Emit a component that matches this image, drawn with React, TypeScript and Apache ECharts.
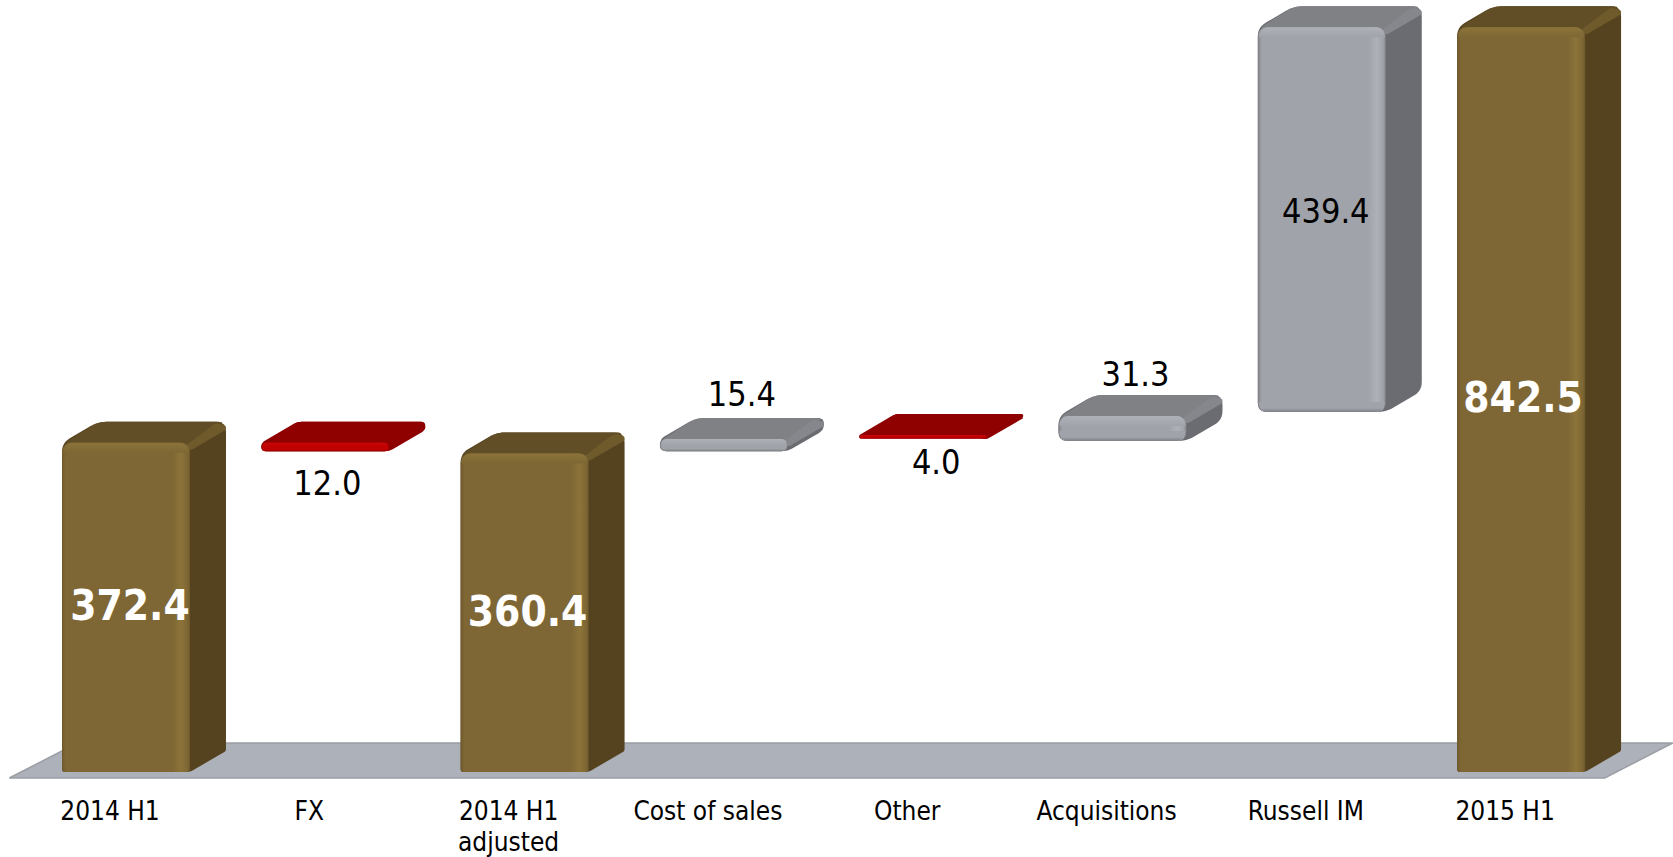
import React, { useEffect, useRef } from "react";
import * as echarts from "echarts";

const categories = ["2014 H1", "FX", "2014 H1\nadjusted", "Cost of sales", "Other", "Acquisitions", "Russell IM", "2015 H1"];
const labelTexts = ["372.4", "12.0", "360.4", "15.4", "4.0", "31.3", "439.4", "842.5"];
const barLows = [0, 363, 0, 363, 377.3, 374.4, 407.2, 0];
const barHighs = [372.4, 372.4, 360.4, 376.7, 381.2, 402.7, 842.5, 842.5];
const kinds = ["total", "down", "total", "up", "down", "up", "up", "total"];

const FONT = '"DejaVu Sans Condensed", "Noto Sans", sans-serif';
const DX = 36;
const DY = 21;
const FRONT_SHIFT = 16;

const palette: Record<string, any> = {
  total: { main: "#7f6735", light: "#8b7339", top: "#624e26", bevel: "#6f5a2c", side: "#554320", low: "#6f5a2c" },
  up: { main: "#a0a3a9", light: "#aeb1b7", top: "#7f8185", bevel: "#85878c", side: "#6b6c71", low: "#7d7f84" },
  down: { main: "#c00000", light: "#c80808", top: "#8f0000", bevel: "#8f0000", side: "#8f0000", low: "#8a0000" },
};

// placement of each value label relative to its bar
const labelLayout = [
  { mode: "mid", dx: 4, dy: -2 },
  { mode: "below", dx: 2, dy: 32 },
  { mode: "mid", dx: 3, dy: -1 },
  { mode: "above", dx: 18, dy: -24 },
  { mode: "below", dx: 13, dy: 23 },
  { mode: "above", dx: 13, dy: -21 },
  { mode: "mid", dx: 4, dy: -9 },
  { mode: "mid", dx: 2, dy: -2 },
];

function rounded(points: number[][], radii: number | number[]): number[][] {
  const out: number[][] = [];
  const n = points.length;
  for (let i = 0; i < n; i++) {
    const p = points[i];
    const a = points[(i + n - 1) % n];
    const b = points[(i + 1) % n];
    const la = Math.hypot(a[0] - p[0], a[1] - p[1]);
    const lb = Math.hypot(b[0] - p[0], b[1] - p[1]);
    const radius = Array.isArray(radii) ? radii[i] : radii;
    const r = Math.min(radius, la / 2, lb / 2);
    const s = [p[0] + ((a[0] - p[0]) * r) / (la || 1), p[1] + ((a[1] - p[1]) * r) / (la || 1)];
    const e = [p[0] + ((b[0] - p[0]) * r) / (lb || 1), p[1] + ((b[1] - p[1]) * r) / (lb || 1)];
    for (let k = 0; k <= 6; k++) {
      const t = k / 6;
      const u = 1 - t;
      out.push([u * u * s[0] + 2 * u * t * p[0] + t * t * e[0], u * u * s[1] + 2 * u * t * p[1] + t * t * e[1]]);
    }
  }
  return out;
}

function renderBar(params: any, api: any) {
  const idx = api.value(0);
  const low = api.value(1);
  const high = api.value(2);
  const c = palette[kinds[idx]];
  const band = api.size([1, 0])[0];
  const w = band * 0.642;
  const cx = api.coord([idx, 0])[0] + FRONT_SHIFT;
  const x0 = cx - w / 2;
  const x1 = cx + w / 2;
  const yT = api.coord([idx, high])[1];
  const yB = api.coord([idx, low])[1];
  const h = yB - yT;
  const isTotal = kinds[idx] === "total";
  const isDown = kinds[idx] === "down";
  const r = isTotal ? 9 : Math.min(9, Math.max(2, h / 2));
  const br = isTotal ? 3 : r;
  const children: any[] = [];

  children.push({
    type: "polygon",
    shape: {
      points: rounded(
        [
          [x0, yB],
          [x0, yT],
          [x0 + DX, yT - DY],
          [x1 + DX, yT - DY],
          [x1 + DX, yB - DY],
          [x1, yB],
        ],
        isDown ? 4 : [br, r, 9, 10, isTotal ? 2 : r, br]
      ),
    },
    style: { fill: c.side },
  });
  children.push({
    type: "polygon",
    shape: {
      points: rounded(
        [
          [x0, yT + 2],
          [x0 + DX, yT - DY],
          [x1 + DX, yT - DY],
          [x1, yT + 2],
        ],
        isDown ? 4 : 8
      ),
    },
    style: { fill: c.top },
  });
  const bevel = Math.min(8, h * 0.6 + 2);
  children.push({
    type: "polygon",
    shape: {
      points: rounded(
        [
          [x1 - 6, yT + 4],
          [x1 + DX - 10, yT - DY + 1],
          [x1 + DX, yT - DY + 4],
          [x1 + DX, yT - DY + bevel],
          [x1, yT + bevel],
        ],
        4
      ),
    },
    style: { fill: c.bevel },
  });
  children.push({
    type: "rect",
    shape: { x: x0, y: yT, width: w, height: h, r: [r, r, br, br] },
    style: {
      fill: {
        type: "linear",
        x: 0,
        y: 0,
        x2: 1,
        y2: 0,
        colorStops: [
          { offset: 0, color: c.low },
          { offset: 0.03, color: c.main },
          { offset: 0.86, color: c.main },
          { offset: 0.93, color: c.light },
          { offset: 0.98, color: c.main },
          { offset: 1, color: c.low },
        ],
      },
    },
  });
  const strip = Math.min(10, h / 2);
  children.push({
    type: "rect",
    shape: { x: x0 + 1, y: yT, width: w - 2, height: strip, r: [r, r, 0, 0] },
    style: {
      fill: {
        type: "linear",
        x: 0,
        y: 0,
        x2: 0,
        y2: 1,
        colorStops: [
          { offset: 0, color: c.light },
          { offset: 1, color: c.main },
        ],
      },
    },
  });
  if (!isTotal) {
    children.push({
      type: "rect",
      shape: { x: x0 + 1, y: yB - strip, width: w - 2, height: strip, r: [0, 0, r, r] },
      style: {
        fill: {
          type: "linear",
          x: 0,
          y: 0,
          x2: 0,
          y2: 1,
          colorStops: [
            { offset: 0, color: c.main },
            { offset: 0.6, color: c.main },
            { offset: 1, color: c.low },
          ],
        },
      },
    });
  }

  const layout = labelLayout[idx];
  const ly = layout.mode === "mid" ? (yT + yB) / 2 + layout.dy : layout.mode === "above" ? yT - DY + layout.dy : yB + layout.dy;
  children.push({
    type: "text",
    z2: 10,
    style: {
      x: cx + layout.dx,
      y: ly,
      text: labelTexts[idx],
      fill: isTotal ? "#ffffff" : "#000000",
      fontFamily: FONT,
      fontWeight: isTotal ? "bold" : "normal",
      fontSize: isTotal ? 42 : 34,
      align: "center",
      verticalAlign: "middle",
    },
  });
  return { type: "group", children };
}

function renderFloor(params: any, api: any) {
  const cs = params.coordSys;
  const y0 = api.coord([0, 0])[1];
  const left = cs.x;
  const right = cs.x + cs.width;
  return {
    type: "group",
    children: [
      {
        type: "polygon",
        shape: {
          points: [
            [left - 1, y0 + 6],
            [left + 67, y0 - 29],
            [right + 68, y0 - 29],
            [right, y0 + 6],
          ],
        },
        style: { fill: "#adb1b9", stroke: "#9b9ea4", lineWidth: 1.5 },
      },
    ],
  };
}

export default function App() {
  const ref = useRef<HTMLDivElement>(null);
  useEffect(() => {
    document.body.style.margin = "0";
    document.body.style.overflow = "hidden";
    const chart = echarts.init(ref.current!, null, { renderer: "svg" });
    chart.setOption({
      animation: false,
      backgroundColor: "#ffffff",
      grid: { left: 10.35, width: 1594.4, top: 3, height: 769, containLabel: false, outerBoundsMode: "none" },
      xAxis: {
        type: "category",
        data: categories,
        axisLine: { show: false },
        axisTick: { show: false },
        splitLine: { show: false },
        axisLabel: {
          interval: 0,
          margin: 23.5,
          color: "#000000",
          fontFamily: FONT,
          fontSize: 26,
          lineHeight: 31,
          verticalAlign: "top",
        },
      },
      yAxis: { type: "value", min: 0, max: 870, show: false },
      series: [
        {
          type: "custom",
          z: 1,
          silent: true,
          renderItem: renderFloor,
          data: [[0, 0]],
          encode: { x: 0, y: 1 },
          clip: false,
        },
        {
          type: "custom",
          z: 2,
          renderItem: renderBar,
          data: categories.map((_, i) => [i, barLows[i], barHighs[i]]),
          encode: { x: 0, y: [1, 2] },
          clip: false,
        },
      ],
    });
    return () => chart.dispose();
  }, []);
  return <div ref={ref} style={{ width: 1673, height: 857 }} />;
}
